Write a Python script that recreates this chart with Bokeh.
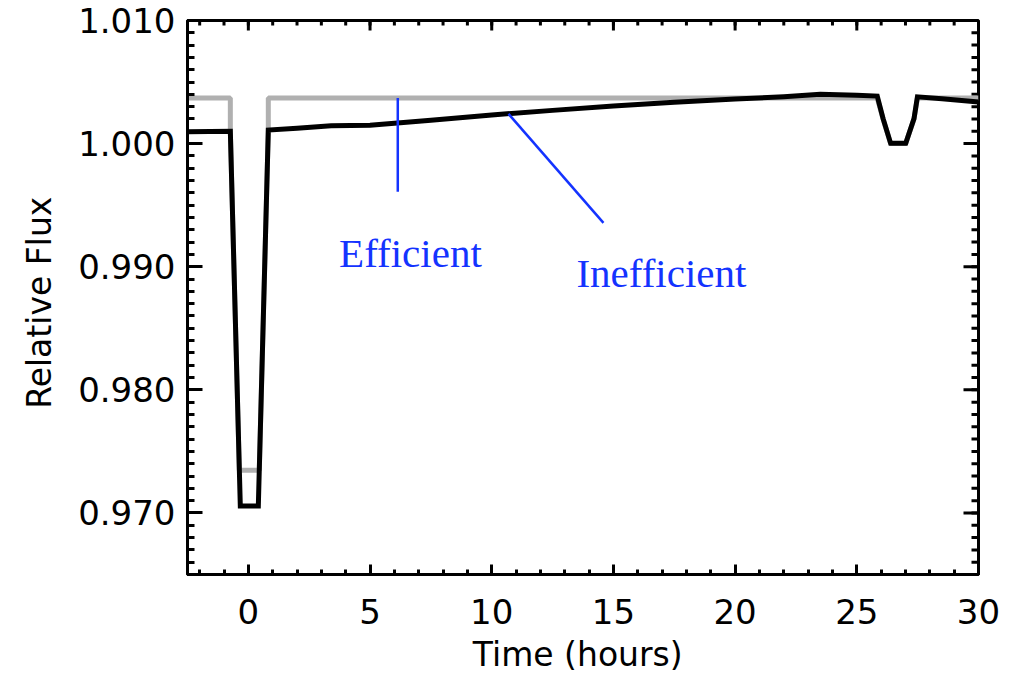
import math
from bokeh.plotting import figure
from bokeh.models import FixedTicker, Range1d, NumeralTickFormatter, ColumnDataSource
from bokeh.core.properties import value
from bokeh.embed import file_html
from bokeh.resources import INLINE

# ---- data ----
time_eff = [-2.5, -0.74, -0.74, -0.37, 0.45, 0.82, 0.82, 25.84, 26.08, 26.39, 27.01, 27.35, 27.49, 30.0]
flux_eff = [1.0037, 1.0037, 1.0010, 0.97346, 0.97346, 1.0011, 1.0037, 1.0037, 1.0020, 1.0000, 1.0000,
            1.0020, 1.0037, 1.0037]

time_ineff = [-2.5, -0.74, -0.33, 0.41, 0.82, 2.0, 3.4, 5.0, 7.5, 10.0, 12.5, 15.0, 17.5,
              20.0, 22.0, 23.5, 25.0, 25.84, 26.08, 26.39, 27.01, 27.35, 27.49, 28.5, 30.0]
flux_ineff = [1.00097, 1.00100, 0.97056, 0.97056, 1.00110, 1.00125, 1.00145, 1.00150,
              1.00190, 1.00233, 1.00270, 1.00306, 1.00335, 1.00362, 1.00380, 1.00400, 1.00392,
              1.00386, 1.00203, 1.00002, 1.00002, 1.00203, 1.00380, 1.00365, 1.00338]

ann_x0 = [6.14, 10.69]
ann_y0 = [1.0037, 1.00241]
ann_x1 = [6.14, 14.59]
ann_y1 = [0.99608, 0.99356]
label_x = [6.66, 16.97]
label_y = [0.99115, 0.98946]
label_text = ["Efficient", "Inefficient"]

x_major = [0, 5, 10, 15, 20, 25, 30]
x_minor = list(range(-2, 31))
y_major = [0.970, 0.980, 0.990, 1.000, 1.010]
y_minor = [round(0.965 + 0.001 * i, 3) for i in range(46)]

X0, X1 = -2.5, 30.0
Y0, Y1 = 0.965, 1.010

# ---- figure ----
p = figure(width=1000, height=677, output_backend="svg", toolbar_location=None,
           x_range=Range1d(X0, X1), y_range=Range1d(Y0, Y1),
           min_border_left=187, min_border_right=22, min_border_top=20, min_border_bottom=103,
           background_fill_color="white", border_fill_color="white")
p.grid.visible = False
p.outline_line_color = "black"
p.outline_line_width = 3

FONT = "DejaVu Sans"

p.xaxis.ticker = FixedTicker(ticks=x_major, minor_ticks=x_minor)
p.yaxis.ticker = FixedTicker(ticks=y_major, minor_ticks=y_minor)
p.yaxis.formatter = NumeralTickFormatter(format="0.000")
for ax, tin, mtin in ((p.xaxis[0], 10, 5), (p.yaxis[0], 15, 7)):
    ax.axis_line_width = 3
    ax.axis_line_color = "black"
    ax.major_tick_line_width = 3
    ax.minor_tick_line_width = 3
    ax.major_tick_in = tin
    ax.major_tick_out = 0
    ax.minor_tick_in = mtin
    ax.minor_tick_out = 0
    ax.major_label_text_font = FONT
    ax.major_label_text_font_size = "34px"
    ax.major_label_text_color = "black"
    ax.axis_label_text_font = FONT
    ax.axis_label_text_font_size = "33px"
    ax.axis_label_text_font_style = "normal"
    ax.axis_label_text_color = "black"
p.xaxis.major_label_standoff = 24
p.yaxis.major_label_standoff = 12
p.xaxis.axis_label = "Time  (hours)"
p.yaxis.axis_label = "Relative  Flux"
p.xaxis.axis_label_standoff = 8
p.yaxis.axis_label_standoff = 16

# ticks on the top and right edges (mirrors of the axis ticks; half outside the frame is clipped)
p.scatter(x_major, [Y1] * len(x_major), marker="dash", angle=math.pi / 2, size=20,
          line_color="black", line_width=3)
p.scatter(x_minor, [Y1] * len(x_minor), marker="dash", angle=math.pi / 2, size=10,
          line_color="black", line_width=3)
p.scatter([X1] * len(y_major), y_major, marker="dash", size=30, line_color="black", line_width=3)
p.scatter([X1] * len(y_minor), y_minor, marker="dash", size=14, line_color="black", line_width=3)

# ---- series ----
p.line(time_eff, flux_eff, line_color="#b0b0b0", line_width=5)
p.line(time_ineff, flux_ineff, line_color="black", line_width=5, line_join="miter")

src = ColumnDataSource(dict(x0=ann_x0, y0=ann_y0, x1=ann_x1, y1=ann_y1))
p.segment(x0="x0", y0="y0", x1="x1", y1="y1", source=src, line_color="#1433ff", line_width=2.5)

tsrc = ColumnDataSource(dict(x=label_x, y=label_y, t=label_text))
p.text(x="x", y="y", text="t", source=tsrc, text_font=value("Liberation Serif"),
       text_font_size="41px", text_color="#1433ff", text_align="center", text_baseline="alphabetic")

open("out.html", "w").write(file_html(p, INLINE))
